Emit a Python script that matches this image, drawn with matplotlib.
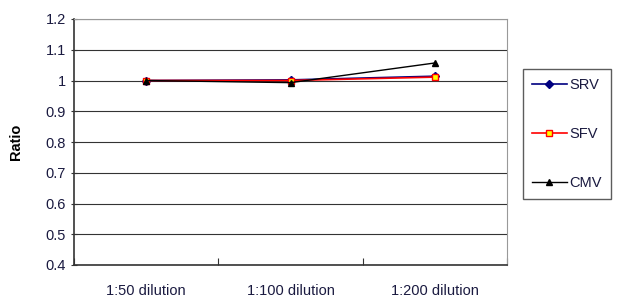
import matplotlib
matplotlib.use("Agg")
import matplotlib.pyplot as plt

categories = ["1:50 dilution", "1:100 dilution", "1:200 dilution"]
srv = [1.0, 1.002, 1.014]
sfv = [1.0, 1.0, 1.011]
cmv = [1.0, 0.993, 1.057]
yticks = [0.4, 0.5, 0.6, 0.7, 0.8, 0.9, 1.0, 1.1, 1.2]
ytick_labels = ["0.4", "0.5", "0.6", "0.7", "0.8", "0.9", "1", "1.1", "1.2"]

plt.rcParams['font.family'] = ['Liberation Sans', 'DejaVu Sans']
fig = plt.figure(figsize=(6.19, 2.99), dpi=100)
ax = fig.add_axes([74/619, 1 - 265/299, (507-74)/619, (265-19)/299])

x = list(range(len(categories)))
ax.plot(x, srv, color="#000080", lw=1.2, marker="D", ms=4, mfc="#000080", mec="#000080", label="SRV", zorder=3)
ax.plot(x, sfv, color="#ff0000", lw=1.2, marker="s", ms=5, mfc="#ffff00", mec="#ff0000", label="SFV", zorder=4)
ax.plot(x, cmv, color="#000000", lw=1.0, marker="^", ms=5, mfc="#000000", mec="#000000", label="CMV", zorder=5)

ax.set_xlim(-0.5, 2.5)
ax.set_ylim(0.4, 1.2)
ax.set_yticks(yticks)
ax.set_yticklabels(ytick_labels, fontsize=10.5, color="#1a1a40")
ax.set_xticks([-0.5, 0.5, 1.5, 2.5])
ax.set_xticklabels([])
ax.set_xticks(x, minor=True)
ax.set_xticklabels(categories, minor=True, fontsize=10.5, color="#1a1a40")
ax.tick_params(axis='x', which='minor', length=0, pad=14)
ax.tick_params(axis='x', which='major', length=5, direction='in', color="#333333")
ax.tick_params(axis='y', length=5, direction='inout', color="#333333")
ax.grid(axis='y', color="#333333", lw=0.8)
for s in ["top", "right"]:
    ax.spines[s].set_color("#999999")
for s in ["left", "bottom"]:
    ax.spines[s].set_color("#333333")
    ax.spines[s].set_linewidth(1.2)
ax.set_ylabel("Ratio", fontsize=10.5, fontweight="bold", labelpad=16)

leg = ax.legend(loc="upper left", bbox_to_anchor=((523-74)/(507-74), (265-69)/(265-19)),
                frameon=True, fancybox=False, edgecolor="#333333", fontsize=10.5,
                labelspacing=2.4, handlelength=2.4, borderpad=0.6, handletextpad=0.2,
                borderaxespad=0)
for t in leg.get_texts():
    t.set_color("#1a1a40")
leg.get_frame().set_linewidth(1.0)

fig.savefig("out.png", dpi=100)
